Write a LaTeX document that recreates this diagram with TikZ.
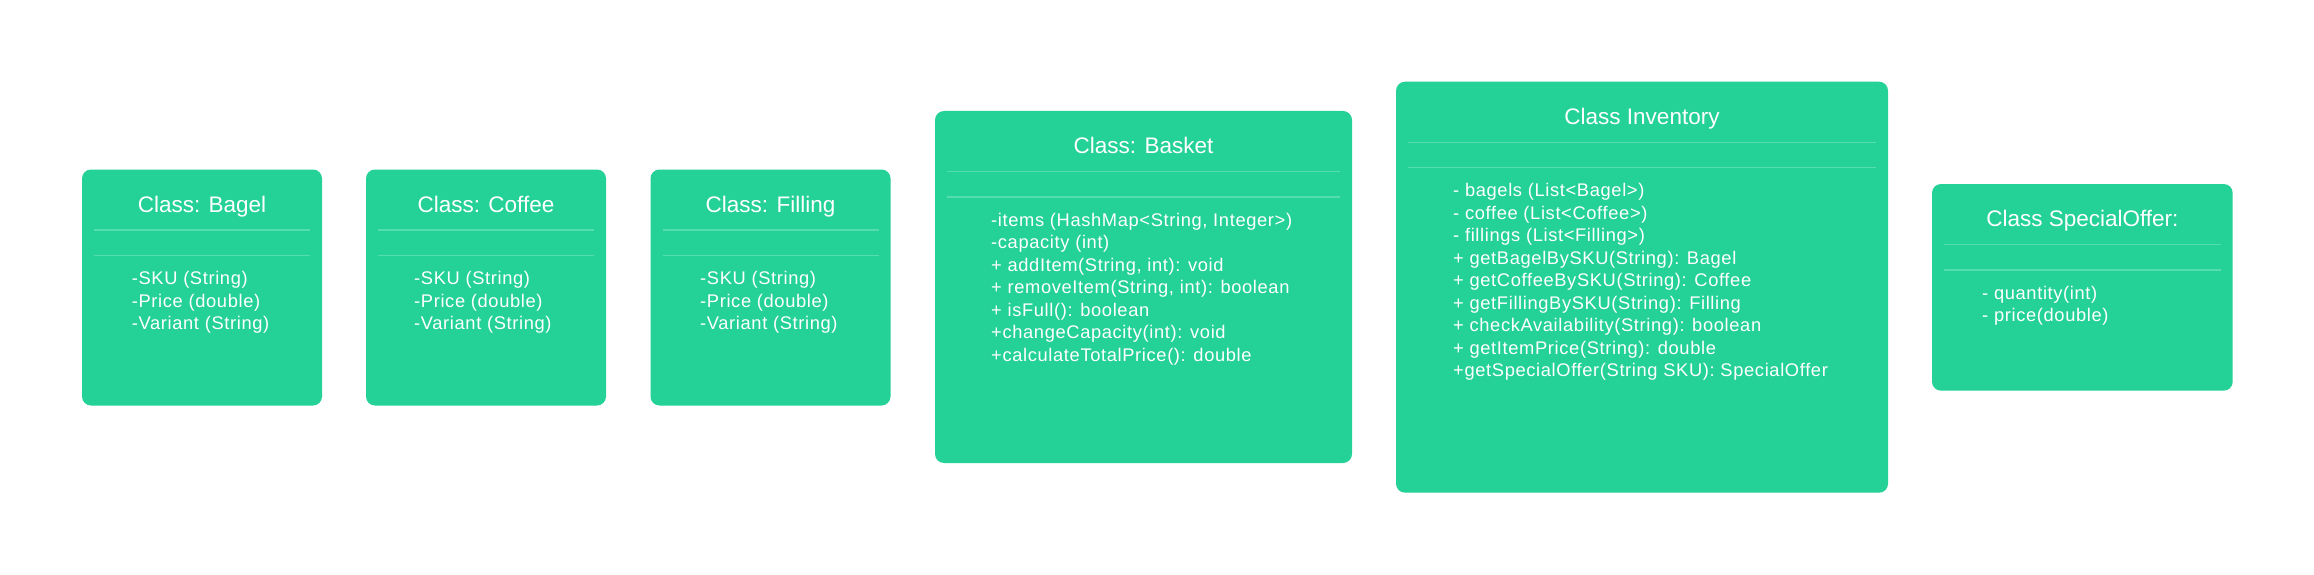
\documentclass[tikz,border=0pt]{standalone}
\usepackage{fontspec}
\setmainfont{Liberation Sans}
\newfontfamily\memberfont[LetterSpace=3.5]{Liberation Sans}
\definecolor{boxgreen}{HTML}{24D197}
\definecolor{sepgreen}{HTML}{55DDB0}
\tikzset{
  classbox/.style={fill=boxgreen, draw=none, rounded corners=9pt, inner sep=0pt, outer sep=0pt, anchor=north west},
  titletext/.style={text=white, font=\fontsize{22.5}{27}\selectfont, inner sep=0pt, anchor=base},
  membertext/.style={text=white, font=\memberfont\fontsize{18.3}{22.5}\selectfont, inner sep=0pt, anchor=base west},
  sepline/.style={draw=sepgreen, line width=1.1pt},
}
% name, left, top, right, bottom, text left, title, members
\newcommand{\umlclassbox}[8]{%
  \node[classbox, minimum width={(#4-#2)*1pt}, minimum height={(#5-#3)*1pt}] (#1) at (#2,#3) {};
  \node[titletext] (#1-title) at ({(#2+#4)/2},{#3+42.5}) {#7};
  \draw[sepline] ({#2+12},{#3+60.5}) -- ({#4-12},{#3+60.5});
  \draw[sepline] ({#2+12},{#3+86}) -- ({#4-12},{#3+86});
  \foreach \m [count=\i from 0] in {#8} {
    \node[membertext] (#1-m\i) at ({#6},{#3+115+22.5*\i}) {\m};
  }
}
\begin{document}
\begin{tikzpicture}[x=1pt, y=-1pt]
\fill[white] (0,0) rectangle (2314,575);
\useasboundingbox (0,0) rectangle (2314,575);

\umlclassbox{bagel}{82}{169.5}{322}{405.5}{131.7}{Class: Bagel}%
  {{-SKU (String)},{-Price (double)},{-Variant (String)}}
\umlclassbox{coffee}{366}{169.5}{606}{405.5}{414}{Class: Coffee}%
  {{-SKU (String)},{-Price (double)},{-Variant (String)}}
\umlclassbox{filling}{650.5}{169.5}{890.5}{405.5}{700}{Class: Filling}%
  {{-SKU (String)},{-Price (double)},{-Variant (String)}}
\umlclassbox{basket}{935}{111}{1352}{463}{991}{Class: Basket}%
  {{-items (HashMap<String, Integer>)},{-capacity (int)},{+ addItem(String, int): void},{+ removeItem(String, int): boolean},{+ isFull(): boolean},{+changeCapacity(int): void},{+calculateTotalPrice(): double}}
\umlclassbox{inventory}{1396}{81.7}{1888}{492.7}{1453}{Class Inventory}%
  {{- bagels (List<Bagel>)},{- coffee (List<Coffee>)},{- fillings (List<Filling>)},{+ getBagelBySKU(String): Bagel},{+ getCoffeeBySKU(String): Coffee},{+ getFillingBySKU(String): Filling},{+ checkAvailability(String): boolean},{+ getItemPrice(String): double},{+getSpecialOffer(String SKU): SpecialOffer}}
\umlclassbox{offer}{1932}{184}{2232.7}{390.7}{1982}{Class SpecialOffer:}%
  {{- quantity(int)},{- price(double)}}
\end{tikzpicture}
\end{document}
